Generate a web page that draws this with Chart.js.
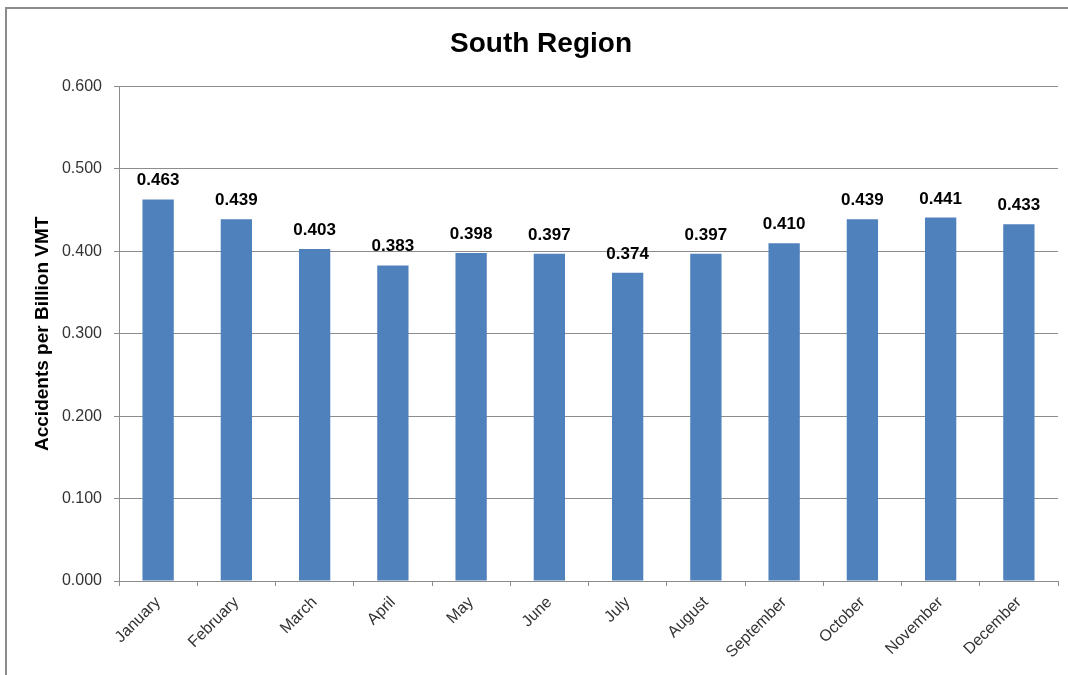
<!DOCTYPE html>
<html>
<head>
<meta charset="utf-8">
<script src="https://cdn.jsdelivr.net/npm/chart.js@4/dist/chart.umd.min.js"></script>
<style>
  html, body { margin: 0; padding: 0; background: #fff; }
  #wrap { position: relative; width: 1068px; height: 675px; overflow: hidden; }
  #frame { position: absolute; left: 5px; top: 7px; width: 1100px; height: 700px; border: 2px solid #8c8c8c; box-sizing: border-box; }
  canvas { position: absolute; left: 0; top: 0; }
</style>
</head>
<body>
<div id="wrap">
  <div id="frame"></div>
  <canvas id="southChart" width="1068" height="675"></canvas>
</div>
<script>
// chart values
const months = ["January", "February", "March", "April", "May", "June",
  "July", "August", "September", "October", "November", "December"];
const rates = [0.463, 0.439, 0.403, 0.383, 0.398, 0.397, 0.374, 0.397, 0.410, 0.439, 0.441, 0.433];
const yTicks = [0, 0.1, 0.2, 0.3, 0.4, 0.5, 0.6];

const font = "'Liberation Sans', Arial, sans-serif";

// value labels above the bars
const barLabels = {
  id: "barLabels",
  afterDatasetsDraw(chart) {
    const ctx = chart.ctx;
    const meta = chart.getDatasetMeta(0);
    ctx.save();
    ctx.font = "bold 17px " + font;
    ctx.fillStyle = "#000";
    ctx.textAlign = "center";
    ctx.textBaseline = "alphabetic";
    meta.data.forEach((bar, i) => {
      ctx.fillText(rates[i].toFixed(3), bar.x, bar.y - 14);
    });
    ctx.restore();
  },
};

new Chart(document.getElementById("southChart"), {
  type: "bar",
  data: {
    labels: months,
    datasets: [
      {
        data: rates,
        backgroundColor: "#4f81bd",
        borderWidth: 0,
        categoryPercentage: 1,
        barPercentage: 0.4,
      },
    ],
  },
  options: {
    responsive: false,
    animation: false,
    layout: { padding: { left: 24, right: 10, top: 0, bottom: 0 } },
    plugins: {
      legend: { display: false },
      tooltip: { enabled: false },
      title: {
        display: true,
        text: "South Region",
        color: "#000",
        font: { family: font, size: 28, weight: "bold" },
        padding: { top: 27, bottom: 26 },
      },
    },
    scales: {
      y: {
        min: 0,
        max: 0.6,
        afterFit(scale) { scale.width = 95; },
        afterBuildTicks(scale) { scale.ticks = yTicks.map(v => ({ value: v })); },
        border: { color: "#8c8c8c", width: 1 },
        grid: { color: "#8c8c8c", tickColor: "#8c8c8c", tickLength: 5, lineWidth: 1 },
        ticks: {
          padding: 12,
          color: "#333",
          font: { family: font, size: 16 },
          callback: v => v.toFixed(3),
        },
        title: {
          display: true,
          text: "Accidents per Billion VMT",
          color: "#000",
          font: { family: font, size: 19, weight: "bold" },
          padding: { top: 7, bottom: 0 },
        },
      },
      x: {
        afterFit(scale) { scale.height = 94; },
        border: { color: "#8c8c8c", width: 1 },
        grid: { offset: true, drawOnChartArea: false, tickColor: "#8c8c8c", tickLength: 5 },
        ticks: {
          minRotation: 45,
          maxRotation: 45,
          padding: 7,
          color: "#333",
          font: { family: font, size: 16 },
        },
      },
    },
  },
  plugins: [barLabels],
});
</script>
</body>
</html>
